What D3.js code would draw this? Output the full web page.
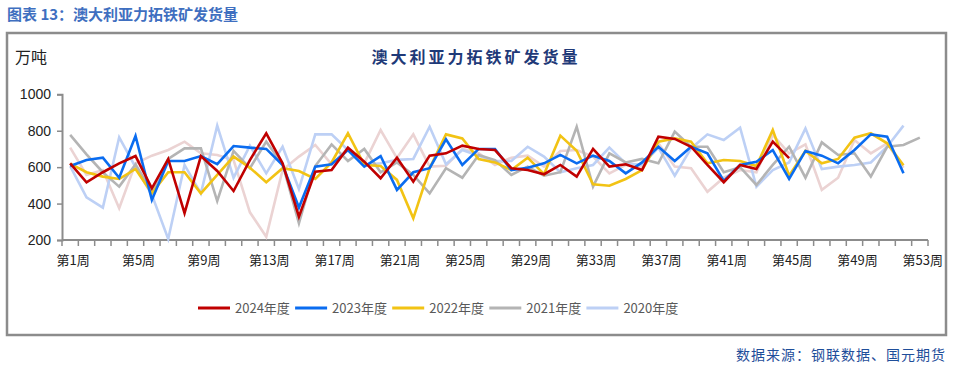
<!DOCTYPE html>
<html>
<head>
<meta charset="utf-8">
<title>澳大利亚力拓铁矿发货量</title>
<script src="https://d3js.org/d3.v7.min.js"></script>
<style type="text/css">
	body{ margin:0; background:#fff; }
	text{ font-family:"Liberation Sans","Noto Sans CJK SC",sans-serif; }
	.cjk{ font-family:"Noto Sans CJK SC",sans-serif; }
	.series{ fill:none; stroke-width:2.6; stroke-linejoin:miter; }
</style>
</head>
<body>
<svg id="chart" width="953" height="370"></svg>
<script>
// 周次
var weeks = d3.range(1, 54);
var tickWeeks = [1, 5, 9, 13, 17, 21, 25, 29, 33, 37, 41, 45, 49, 53];
var yTicks = [200, 400, 600, 800, 1000];

// 各年度发货量（万吨），按周
var y2024 = [621,517,572,621,661,484,645,347,661,579,469,639,786,621,328,575,584,707,630,539,
	652,520,663,676,718,700,694,594,584,561,612,548,700,603,616,584,767,755,712,612,
	517,612,590,740,650];
var y2023 = [606,639,652,542,771,420,634,634,661,617,716,707,700,612,378,603,616,694,603,661,
	475,572,594,753,612,700,700,584,597,621,667,621,663,634,566,626,712,634,712,676,
	524,612,630,694,535,689,663,621,694,780,767,566];
var y2022 = [619,572,548,535,590,456,572,572,456,557,658,597,517,594,579,535,626,786,612,606,
	530,319,594,780,758,645,626,584,652,561,773,690,506,498,535,584,740,758,740,621,
	639,634,606,804,553,689,621,645,762,786,731,610];
var y2021 = [777,670,572,493,615,465,645,703,703,414,689,594,740,616,292,606,725,634,700,572,
	626,557,456,594,542,667,639,557,603,553,572,822,493,676,626,645,621,795,712,712,
	572,600,502,612,712,542,736,667,676,548,712,722,762];
var y2020 = [606,434,378,764,600,448,206,612,456,828,542,718,566,712,480,780,780,694,612,621,
	640,645,822,616,694,663,634,634,712,658,572,594,612,707,621,612,707,553,703,780,
	749,817,493,584,626,813,590,603,612,626,712,828];
var y2019 = [707,557,584,374,621,663,694,740,676,667,639,352,218,584,658,722,616,703,621,804,
	650,780,603,608,700,676,612,652,663,603,689,694,658,566,612,603,731,603,594,465,
	542,584,572,777,676,725,475,542,749,676,731,597];

var seriesNames = ["2024年度", "2023年度", "2022年度", "2021年度", "2020年度"];
var seriesColors = ["#C00000", "#0A6CF0", "#F2C314", "#B4B4B4", "#BDD0F5"];

var svg = d3.select("#chart");

// 外框和标题
svg.append("text")
	.attr("class", "cjk")
	.attr("x", 7).attr("y", 20)
	.attr("font-size", 15).attr("font-weight", "bold")
	.attr("fill", "#3F6FC0")
	.text("图表 13：澳大利亚力拓铁矿发货量");

svg.append("rect")
	.attr("x", 7).attr("y", 33)
	.attr("width", 939).attr("height", 302)
	.attr("fill", "none").attr("stroke", "#8C8C8C").attr("stroke-width", 2.5);

svg.append("text")
	.attr("class", "cjk")
	.attr("x", 476).attr("y", 63)
	.attr("text-anchor", "middle")
	.attr("font-size", 16).attr("font-weight", "bold")
	.attr("letter-spacing", 3)
	.attr("fill", "#1F3A78")
	.text("澳大利亚力拓铁矿发货量");

svg.append("text")
	.attr("class", "cjk")
	.attr("x", 15).attr("y", 63)
	.attr("font-size", 16)
	.attr("fill", "#222")
	.text("万吨");

// 比例尺
var x = d3.scaleBand().domain(weeks).range([62, 928]);
var y = d3.scaleLinear().domain([200, 1000]).range([240, 94.3]);

var plot = svg.append("g");

// y 轴
var yAxis = plot.append("g")
	.attr("transform", "translate(62,0)")
	.call(d3.axisLeft(y).tickValues(yTicks).tickFormat(d3.format("d")).tickSize(5).tickPadding(6));
yAxis.select(".domain").attr("stroke", "#8C8C8C").attr("stroke-width", 2);
yAxis.selectAll(".tick line").attr("stroke", "#8C8C8C").attr("stroke-width", 1.5);
yAxis.selectAll(".tick text").attr("font-size", 14).attr("fill", "#222");

// x 轴：刻度在类别边界
var xg = plot.append("g").attr("transform", "translate(0,240)");
xg.append("line")
	.attr("x1", 62).attr("x2", 928)
	.attr("stroke", "#8C8C8C").attr("stroke-width", 2);
xg.selectAll(".xt").data(weeks.concat([54]))
	.enter().append("line")
	.attr("class", "xt")
	.attr("x1", function(d){ return d <= 53 ? x(d) : x(53) + x.bandwidth(); })
	.attr("x2", function(d){ return d <= 53 ? x(d) : x(53) + x.bandwidth(); })
	.attr("y1", 0).attr("y2", 6)
	.attr("stroke", "#8C8C8C").attr("stroke-width", 1.5);
xg.selectAll(".xl").data(tickWeeks)
	.enter().append("text")
	.attr("class", "xl cjk")
	.attr("x", function(d){ return x(d) + x.bandwidth() / 2 + 3; })
	.attr("y", 25)
	.attr("text-anchor", "middle")
	.attr("font-size", 13)
	.attr("fill", "#222")
	.text(function(d){ return "第" + d + "周"; });

// 折线
var line = d3.line()
	.x(function(d, i){ return x(weeks[i]) + x.bandwidth() / 2; })
	.y(function(d){ return y(d); });

var drawOrder = [
	{ data: y2019, color: "#EBD3D3" },
	{ data: y2020, color: seriesColors[4] },
	{ data: y2021, color: seriesColors[3] },
	{ data: y2022, color: seriesColors[2] },
	{ data: y2023, color: seriesColors[1] },
	{ data: y2024, color: seriesColors[0] }
];

plot.selectAll(".series").data(drawOrder)
	.enter().append("path")
	.attr("class", "series")
	.attr("stroke", function(d){ return d.color; })
	.attr("d", function(d){ return line(d.data); });

// 图例
var legend = svg.append("g");
var items = legend.selectAll("g").data(seriesNames)
	.enter().append("g")
	.attr("transform", function(d, i){ return "translate(" + (198 + i * 97.1) + ",308)"; });
items.append("line")
	.attr("x1", 0).attr("x2", 32)
	.attr("stroke", function(d, i){ return seriesColors[i]; })
	.attr("stroke-width", 3);
items.append("text")
	.attr("class", "cjk")
	.attr("x", 37).attr("y", 5)
	.attr("font-size", 13)
	.attr("fill", "#595959")
	.text(function(d){ return d; });

// 数据来源
svg.append("text")
	.attr("class", "cjk")
	.attr("x", 946).attr("y", 360)
	.attr("text-anchor", "end")
	.attr("font-size", 14)
	.attr("fill", "#1F4E9A")
	.attr("letter-spacing", 1)
	.text("数据来源：钢联数据、国元期货");
</script>
</body>
</html>
